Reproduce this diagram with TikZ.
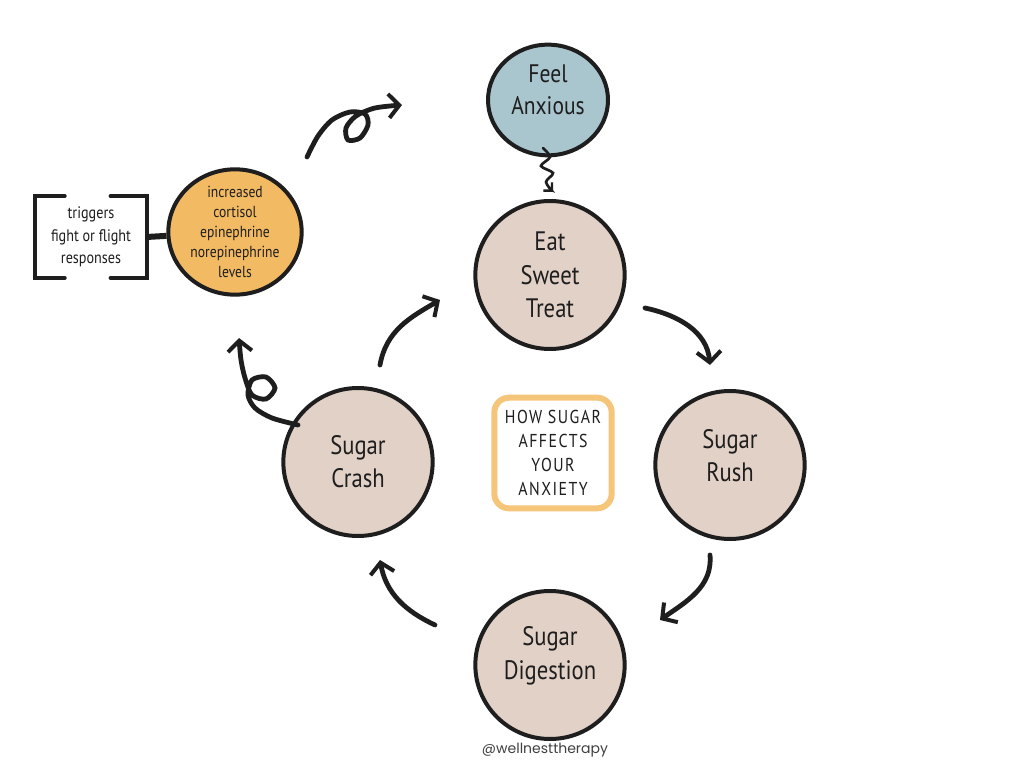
\documentclass[tikz,border=0pt]{standalone}
\usepackage{fontspec}
\setmainfont[FakeStretch=0.85]{PT Sans}
\newfontfamily\footfont{Poppins}
\usetikzlibrary{arrows.meta,shapes.geometric}

\definecolor{ink}{HTML}{1E1E1E}
\definecolor{beige}{HTML}{E2D1C7}
\definecolor{anxblue}{HTML}{A9C6CE}
\definecolor{lvlorange}{HTML}{F2BA63}
\definecolor{boxorange}{HTML}{F5C679}

\tikzset{
  blob/.style={ellipse, draw=ink, line width=3pt, fill=beige, text=ink, align=center,
    font=\fontsize{20}{25}\selectfont, minimum width=112pt, minimum height=111pt},
  blobtext/.style={text=ink, align=center, font=\fontsize{20}{25}\selectfont},
  arr/.style={draw=ink, line width=3.6pt, line cap=round,
    -{Straight Barb[length=8pt,width=18pt,line width=3pt]}},
  thinarr/.style={draw=ink, line width=2pt, line cap=round,
    -{Straight Barb[length=4.5pt,width=9pt,line width=1.8pt]}},
  bracket/.style={draw=ink, line width=3pt, line cap=round}
}

\begin{document}
\begin{tikzpicture}[x=0.75pt, y=0.75pt]
  \fill[white] (0,0) rectangle (1024,768);
  \useasboundingbox (0,0) rectangle (1024,768);

  \node[blob] (eat) at (550,493) {Eat\\Sweet\\Treat};
  \node[blob, fill=anxblue, minimum width=90pt, minimum height=83pt,
    label={[blobtext, font=\fontsize{19}{24}\selectfont, yshift=8pt]center:{Feel\\Anxious}}] (anx)
    at ([shift={(-2,175)}] eat) {};
  \node[blob, label={[blobtext, yshift=7pt]center:{Sugar\\Rush}}] (rush)
    at ([shift={(180,-190)}] eat) {};
  \node[blob, label={[blobtext, yshift=7pt]center:{Sugar\\Digestion}}] (dig)
    at ([shift={(0,-390)}] eat) {};
  \node[blob] (crash) at ([shift={(-192,-187)}] eat) {Sugar\\Crash};
  \node[blob, fill=lvlorange, minimum width=100pt, minimum height=94pt, inner sep=-4pt,
    font=\fontsize{12}{15}\selectfont] (lvl) at ([shift={(-315,43)}] eat)
    {increased\\cortisol\\epinephrine\\norepinephrine\\levels};

  \node[text=ink, align=center, font=\fontsize{12.5}{17}\selectfont,
    minimum width=83pt, minimum height=61pt] (trig) at (91,531)
    {triggers\\fight or flight\\responses};
  \draw[bracket] ([xshift=22]trig.north west) -- (trig.north west)
    -- (trig.south west) -- ([xshift=22]trig.south west);
  \draw[bracket] ([xshift=-27]trig.north east) -- (trig.north east)
    -- (trig.south east) -- ([xshift=-27]trig.south east);
  \draw[ink, line width=4.5pt] (trig.east) -- (lvl);

  \node[draw=boxorange, line width=4.5pt, rounded corners=11pt, fill=white, text=ink,
    align=center, minimum width=88pt, minimum height=83pt,
    font=\fontsize{14}{18}\selectfont\addfontfeature{LetterSpace=8}] (box)
    at (553,315) {HOW SUGAR\\AFFECTS\\YOUR\\ANXIETY};

  \node[text=ink!85, font=\footfont\fontsize{10.5}{12}\selectfont] (foot) at (545,18)
    {@wellnesttherapy};

  % cycle
  \draw[arr] ([shift={(95,-33)}] eat.center) to[out=-12,in=95] ([shift={(-20,100)}] rush.center);
  \draw[arr] ([shift={(-20,-90)}] rush.center) to[out=-85,in=35] ([shift={(110,45)}] dig.center);
  \draw[arr] ([shift={(-115,40)}] dig.center) to[out=155,in=-80] ([shift={(22,-98)}] crash.center);
  \draw[arr] ([shift={(22,97)}] crash.center) to[out=80,in=-150] ([shift={(-110,-25)}] eat.center);

  % squiggle down from anx
  \draw[thinarr] plot[smooth] coordinates {([shift={(-5,-48)}] anx.center) (550,611) (541,602)
    (553,595) (546,586) ([shift={(5,-92)}] anx.center)};

  % loops
  \draw[arr] plot[smooth] coordinates {([shift={(72,75)}] lvl.center) (318,632) (332,648)
    (350,656) (365,654) (368,643) (360,630) (348,628) (346,640) (356,652) (375,660)
    ([shift={(-146,-5)}] anx.center)};
  \draw[arr] plot[smooth] coordinates {([shift={(-60,37)}] crash.center) (272,350) (255,360)
    (248,373) (252,388) (266,391) (275,380) (266,369) (252,373) (245,390) (241,408)
    ([shift={(4,-106)}] lvl.center)};
\end{tikzpicture}
\end{document}
